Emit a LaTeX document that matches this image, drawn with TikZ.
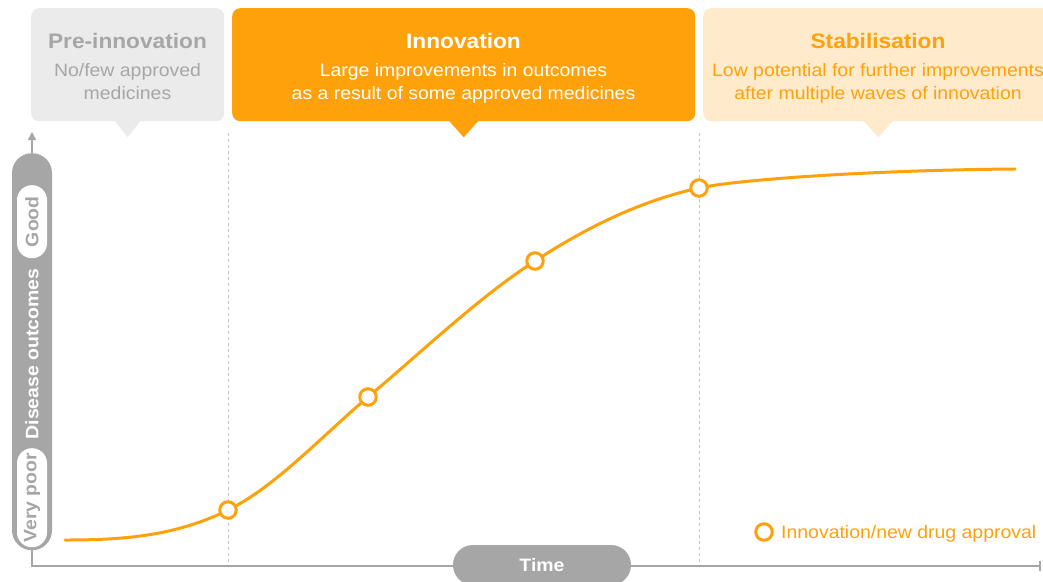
\documentclass[tikz,border=0pt]{standalone}
\usepackage{fontspec}
\setmainfont{Liberation Sans}[FakeStretch=1.08]
\usetikzlibrary{arrows.meta}

\definecolor{accent}{HTML}{FFA10A}
\definecolor{accentlight}{HTML}{FFEBCC}
\definecolor{greybox}{HTML}{EBEBEB}
\definecolor{greytext}{HTML}{A6A6A6}
\definecolor{axisgrey}{HTML}{A6A6A6}
\definecolor{dashgrey}{HTML}{C4C4C4}

\begin{document}
\begin{tikzpicture}[x=1pt,y=-1pt,
  phasebox/.style={rounded corners=8pt, inner sep=0pt, anchor=north west, minimum height=113pt},
  phasetitle/.style={anchor=base, inner sep=0pt, font=\fontsize{21}{25}\selectfont\bfseries},
  phasetext/.style={anchor=base, inner sep=0pt, font=\fontsize{18}{23}\selectfont},
  phaseline/.style={draw=dashgrey, line width=1pt, dash pattern=on 3pt off 3pt},
  axisline/.style={draw=axisgrey, line width=1.6pt},
  axislabel/.style={rotate=90, inner sep=0pt, font=\fontsize{18}{22}\selectfont\bfseries},
  innerpill/.style={fill=white, minimum width=30pt, inner sep=0pt, anchor=north},
  curve/.style={draw=accent, line width=3pt, line cap=round},
  approval/.style={circle, draw=accent, line width=3pt, fill=white, minimum size=16.5pt, inner sep=0pt}
]
\clip (0,0) rectangle (1043,581);

% ---- phase boxes with their pointers ----
\node[phasebox, fill=greybox, minimum width=193pt] (pre) at (31,8) {};
\fill[greybox] ([xshift=-13pt,yshift=1pt]pre.south) -- ([xshift=13pt,yshift=1pt]pre.south) -- ([yshift=-16pt]pre.south) -- cycle;
\node[phasebox, fill=accent, minimum width=463pt] (inno) at (232,8) {};
\fill[accent] ([xshift=-15pt,yshift=1pt]inno.south) -- ([xshift=15pt,yshift=1pt]inno.south) -- ([yshift=-16pt]inno.south) -- cycle;
\node[phasebox, fill=accentlight, minimum width=350pt] (stab) at (703,8) {};
\fill[accentlight] ([xshift=-15pt,yshift=1pt]stab.south) -- ([xshift=15pt,yshift=1pt]stab.south) -- ([yshift=-16pt]stab.south) -- cycle;

\node[phasetitle, text=greytext] (pre-title) at (127.5,48) {Pre-innovation};
\node[phasetext, text=greytext] (pre-l1) at (127.5,76) {No/few approved};
\node[phasetext, text=greytext] (pre-l2) at (127.5,99) {medicines};

\node[phasetitle, text=white] (inno-title) at (463.5,48) {Innovation};
\node[phasetext, text=white] (inno-l1) at (463.5,76) {Large improvements in outcomes};
\node[phasetext, text=white] (inno-l2) at (463.5,99) {as a result of some approved medicines};

\node[phasetitle, text=accent] (stab-title) at (878,48) {Stabilisation};
\node[phasetext, text=accent] (stab-l1) at (878,76) {Low potential for further improvements};
\node[phasetext, text=accent] (stab-l2) at (878,99) {after multiple waves of innovation};

% ---- phase separators ----
\coordinate (sepA-top) at (228,133);
\coordinate (sepA-bot) at (228,566);
\coordinate (sepB-top) at (699,133);
\coordinate (sepB-bot) at (699,566);
\draw[phaseline] (sepA-top) -- (sepA-bot);
\draw[phaseline] (sepB-top) -- (sepB-bot);

% ---- axes ----
\node[fill=axisgrey, rounded corners=19.9pt, minimum width=40pt, minimum height=397pt, inner sep=0pt, anchor=north] (yaxis) at (32,153) {};
\coordinate (ytip) at (32,132);
\coordinate (xend) at (1041,566);
\draw[axisline, -{Triangle[width=8pt,length=8pt]}] (yaxis.north) -- (ytip);
\draw[axisline, -{Bar[width=10pt]}] (yaxis.south) |- (xend);

\node[innerpill, rounded corners=14.9pt, minimum height=73pt] (good-pill) at (32,185) {};
\node[innerpill, rounded corners=14.9pt, minimum height=99pt] (poor-pill) at (32,448) {};
\node[axislabel, text=axisgrey] (good) at (good-pill.center) {Good};
\node[axislabel, text=white] (outcomes) at (32,354) {Disease outcomes};
\node[axislabel, text=axisgrey] (poor) at (poor-pill.center) {Very poor};

\node[fill=axisgrey, rounded corners=19.9pt, minimum width=178pt, minimum height=40pt, inner sep=0pt,
      text=white, font=\fontsize{18}{22}\selectfont\bfseries] (time) at (542,565) {Time};

% ---- outcome curve ----
\coordinate (start) at (65,540);
\coordinate (finish) at (1015,169);
\coordinate (p1) at (228,510);
\coordinate (p2) at (368,397);
\coordinate (p3) at (535,261);
\coordinate (p4) at (699,188);
\draw[curve] (start) .. controls (119,540) and (174,537) .. (p1)
  .. controls (275,487) and (321,437) .. (p2)
  .. controls (424,350) and (479,297) .. (p3)
  .. controls (590,225) and (644,200) .. (p4)
  .. controls (740,179) and (880,170) .. (finish);
\node[approval] (a1) at (p1) {};
\node[approval] (a2) at (p2) {};
\node[approval] (a3) at (p3) {};
\node[approval] (a4) at (p4) {};

% ---- legend ----
\node[approval] (legend-mark) at (764,532) {};
\node[anchor=base west, inner sep=0pt, text=accent, font=\fontsize{18}{22}\selectfont] (legend-text) at (781,538.5) {Innovation/new drug approval};
\end{tikzpicture}
\end{document}
